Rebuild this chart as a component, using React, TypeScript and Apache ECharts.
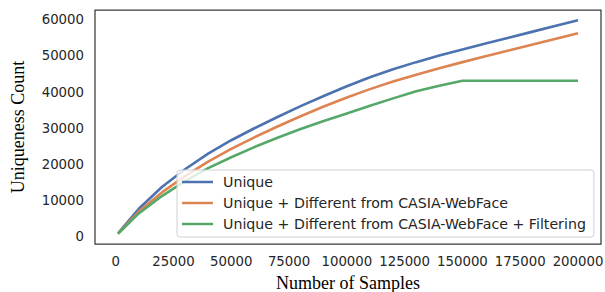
import React, { useEffect, useRef } from "react";
import * as echarts from "echarts";

const samples = [1000, 10000, 20000, 30000, 40000, 50000, 60000, 70000, 80000, 90000, 100000, 110000, 120000, 130000, 140000, 150000, 160000, 170000, 180000, 190000, 200000];
const uniqueVals = [1000, 7800, 13800, 18700, 23000, 26700, 30000, 33100, 36100, 38900, 41600, 44100, 46300, 48250, 50050, 51750, 53400, 55000, 56600, 58200, 59800];
const diffVals = [900, 7000, 12300, 16800, 20800, 24300, 27500, 30500, 33300, 36000, 38500, 40800, 42900, 44800, 46550, 48250, 49850, 51450, 53050, 54650, 56200];
const filterVals = [900, 6500, 11300, 15400, 19000, 22000, 24800, 27400, 29800, 32000, 34100, 36200, 38250, 40200, 41750, 43100, 43100, 43100, 43100, 43100, 43100];
const seriesNames = ["Unique", "Unique + Different from CASIA-WebFace", "Unique + Different from CASIA-WebFace + Filtering"];
const xTicks = [0, 25000, 50000, 75000, 100000, 125000, 150000, 175000, 200000];
const yTicks = [0, 10000, 20000, 30000, 40000, 50000, 60000];
const colors = ["#4C72B0", "#DD8452", "#55A868"];

export default function App() {
  const ref = useRef<HTMLDivElement>(null);
  useEffect(() => {
    if (!ref.current) return;
    const chart = echarts.init(ref.current, undefined, { renderer: "svg" });
    const all = [uniqueVals, diffVals, filterVals];
    chart.setOption({
      animation: false,
      grid: { left: 95, top: 10, width: 506, height: 234, outerBoundsMode: "none", containLabel: false, show: true, borderColor: "#3a3a3a", borderWidth: 1.25, backgroundColor: "transparent" },
      xAxis: {
        type: "value",
        min: -8950,
        max: 209950,
        name: "Number of Samples",
        nameLocation: "middle",
        nameGap: 30,
        nameTextStyle: { fontFamily: "Liberation Serif", fontSize: 18, color: "#000" },
        axisLine: { show: false },
        axisTick: { show: false },
        splitLine: { show: false },
        axisLabel: { customValues: xTicks, formatter: (v: number) => String(v), fontFamily: "DejaVu Sans", fontSize: 13.3, color: "#262626", margin: 11 },
      },
      yAxis: {
        type: "value",
        min: -1935,
        max: 62635,
        name: "Uniqueness Count",
        nameLocation: "middle",
        nameGap: 68,
        nameTextStyle: { fontFamily: "Liberation Serif", fontSize: 18, color: "#000" },
        axisLine: { show: false },
        axisTick: { show: false },
        splitLine: { show: false },
        axisLabel: { customValues: yTicks, formatter: (v: number) => String(v), fontFamily: "DejaVu Sans", fontSize: 13.3, color: "#262626", margin: 11 },
      },
      legend: {
        orient: "vertical",
        left: 177,
        top: 170,
        backgroundColor: "rgba(255,255,255,0.8)",
        borderColor: "#d0d0d0",
        borderWidth: 1,
        borderRadius: 3,
        padding: [5, 8, 6, 5],
        itemGap: 7,
        itemWidth: 31,
        itemHeight: 14,
        icon: "path://M0,5.75 L31,5.75 L31,8.25 L0,8.25 Z",
        textStyle: { fontFamily: "DejaVu Sans", fontSize: 14.2, color: "#262626", lineHeight: 14, padding: [0, 0, 0, 5] },
        data: seriesNames,
      },
      series: seriesNames.map((name, i) => ({
        name,
        type: "line",
        data: samples.map((s, j) => [s, all[i][j]]),
        showSymbol: false,
        symbol: "none",
        smooth: false,
        lineStyle: { color: colors[i], width: 2.6 },
        itemStyle: { color: colors[i] },
      })),
    });
    return () => chart.dispose();
  }, []);
  return <div ref={ref} style={{ position: "absolute", left: 0, top: 0, width: 605, height: 292 }} />;
}
